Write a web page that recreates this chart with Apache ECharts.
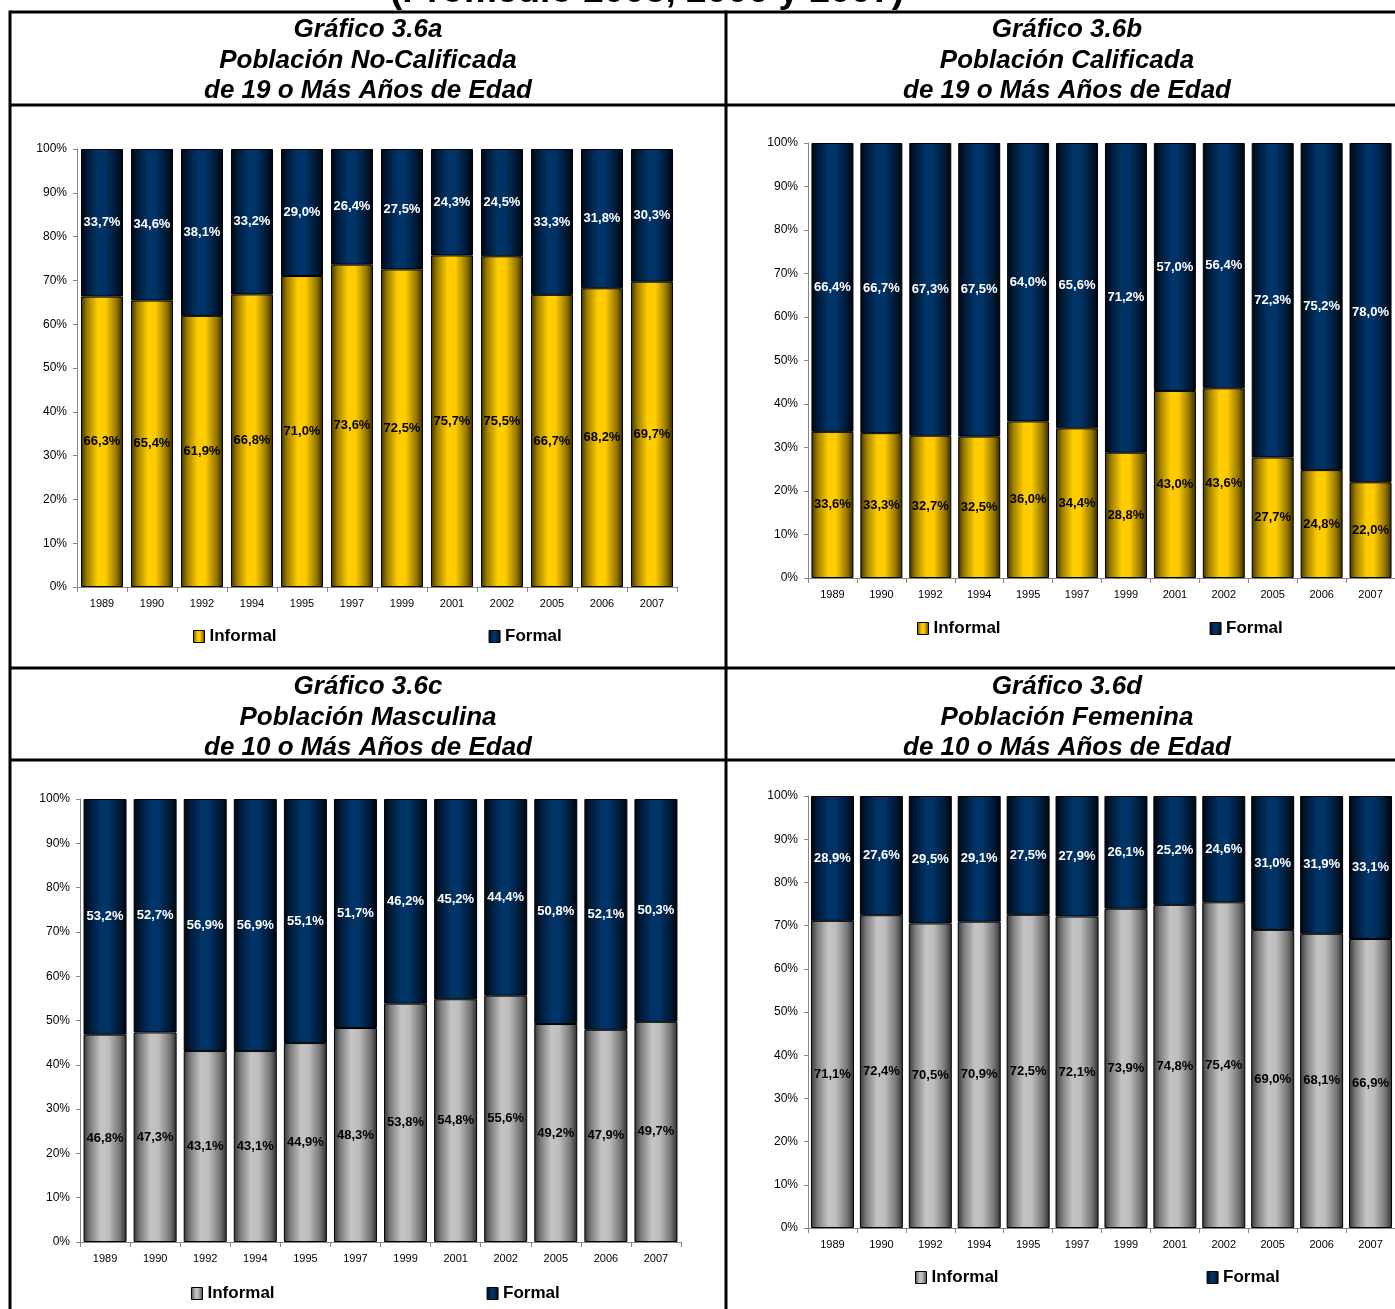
<!DOCTYPE html>
<html>
<head>
<meta charset="utf-8">
<script src="https://cdn.jsdelivr.net/npm/echarts@6/dist/echarts.min.js"></script>
<style>
html,body{margin:0;padding:0;background:#fff;}
#chart{width:1395px;height:1309px;}
</style>
</head>
<body>
<div id="chart"></div>
<script>
var years = ['1989','1990','1992','1994','1995','1997','1999','2001','2002','2005','2006','2007'];
var yTicks = [0,10,20,30,40,50,60,70,80,90,100];

var informalA = [66.3,65.4,61.9,66.8,71.0,73.6,72.5,75.7,75.5,66.7,68.2,69.7];
var formalA   = [33.7,34.6,38.1,33.2,29.0,26.4,27.5,24.3,24.5,33.3,31.8,30.3];
var informalB = [33.6,33.3,32.7,32.5,36.0,34.4,28.8,43.0,43.6,27.7,24.8,22.0];
var formalB   = [66.4,66.7,67.3,67.5,64.0,65.6,71.2,57.0,56.4,72.3,75.2,78.0];
var informalC = [46.8,47.3,43.1,43.1,44.9,48.3,53.8,54.8,55.6,49.2,47.9,49.7];
var formalC   = [53.2,52.7,56.9,56.9,55.1,51.7,46.2,45.2,44.4,50.8,52.1,50.3];
var informalD = [71.1,72.4,70.5,70.9,72.5,72.1,73.9,74.8,75.4,69.0,68.1,66.9];
var formalD   = [28.9,27.6,29.5,29.1,27.5,27.9,26.1,25.2,24.6,31.0,31.9,33.1];

var pageTitle = '(Promedio 2005, 2006 y 2007)';
var titles = [
  'Gráfico 3.6a\nPoblación No-Calificada\nde 19 o Más Años de Edad',
  'Gráfico 3.6b\nPoblación Calificada\nde 19 o Más Años de Edad',
  'Gráfico 3.6c\nPoblación Masculina\nde 10 o Más Años de Edad',
  'Gráfico 3.6d\nPoblación Femenina\nde 10 o Más Años de Edad'
];

var FONT = '"Liberation Sans", Arial, Helvetica, sans-serif';

function grad(edgeL, mid1, mid2, edgeR, c1, c2) {
  return {type:'linear', x:0, y:0, x2:1, y2:0, colorStops:[
    {offset:0, color:edgeL},
    {offset:0.15, color:c1},
    {offset:0.4, color:mid1},
    {offset:0.58, color:mid2},
    {offset:0.85, color:c2},
    {offset:1, color:edgeR}
  ]};
}
var yellow = grad('#3f3000', '#ffcc00', '#ffcc00', '#332700', '#a08000', '#927400');
var navy   = grad('#000510', '#003366', '#003366', '#00040c', '#001a38', '#001833');
var grey   = grad('#363636', '#c4c4c4', '#bdbdbd', '#2e2e2e', '#7c7c7c', '#747474');

var panels = [
  {inf: informalA, frm: formalA, infColor: yellow, grid:{left:77, top:149, width:600, height:438}, barW:42, legend:{left:193, top:628, gap:212}},
  {inf: informalB, frm: formalB, infColor: yellow, grid:{left:808, top:143, width:592, height:435}, barW:42, legend:{left:917, top:620, gap:209}},
  {inf: informalC, frm: formalC, infColor: grey,   grid:{left:80, top:799, width:601, height:443}, barW:43, legend:{left:191, top:1285, gap:212}},
  {inf: informalD, frm: formalD, infColor: grey,   grid:{left:808, top:796, width:589, height:432}, barW:43, legend:{left:915, top:1269, gap:208}}
];

function fmt(p) { return p.value.toFixed(1).replace('.', ',') + '%'; }

var grids = [], xAxes = [], yAxes = [], series = [], legends = [], titleComps = [];
panels.forEach(function(p, i) {
  grids.push(p.grid);
  xAxes.push({
    type:'category', gridIndex:i, data: years,
    axisLine:{lineStyle:{color:'#868686', width:1}},
    axisTick:{show:true, length:5, lineStyle:{color:'#868686'}},
    axisLabel:{color:'#000', fontSize:11, fontFamily:FONT, margin:11}
  });
  yAxes.push({
    type:'value', gridIndex:i, min:0, max:100, interval:10,
    axisLine:{show:true, lineStyle:{color:'#868686', width:1}},
    axisTick:{show:true, length:4, lineStyle:{color:'#868686'}},
    splitLine:{show:false},
    axisLabel:{color:'#000', fontSize:12, fontFamily:FONT, margin:10, formatter:'{value}%'}
  });
  series.push({
    name:'Informal', type:'bar', stack:'s'+i, xAxisIndex:i, yAxisIndex:i, data:p.inf, barWidth:p.barW,
    itemStyle:{color:p.infColor, borderColor:'#000', borderWidth:1},
    label:{show:true, position:'inside', formatter:fmt, color:'#000', fontWeight:'bold', fontSize:13, fontFamily:FONT},
    emphasis:{disabled:true}, animation:false
  });
  series.push({
    name:'Formal', type:'bar', stack:'s'+i, xAxisIndex:i, yAxisIndex:i, data:p.frm, barWidth:p.barW,
    itemStyle:{color:navy, borderColor:'#000', borderWidth:1},
    label:{show:true, position:'inside', formatter:fmt, color:'#fff', fontWeight:'bold', fontSize:13, fontFamily:FONT},
    emphasis:{disabled:true}, animation:false
  });
  legends.push({
    left:p.legend.left, top:p.legend.top, padding:0, itemGap:p.legend.gap,
    itemWidth:11, itemHeight:12, icon:'rect', selectedMode:false,
    textStyle:{color:'#000', fontWeight:'bold', fontSize:17, fontFamily:FONT},
    data:[
      {name:'Informal', itemStyle:{color:p.infColor, borderColor:'#000', borderWidth:1}},
      {name:'Formal', itemStyle:{color:navy, borderColor:'#000', borderWidth:1}}
    ]
  });
});

var titlePos = [[368, 15], [1067, 15], [368, 672], [1067, 672]];
titles.forEach(function(t, i) {
  titleComps.push({
    text:t, left:titlePos[i][0], top:titlePos[i][1], textAlign:'center', padding:0,
    textStyle:{color:'#000', fontSize:26, fontWeight:'bold', fontStyle:'italic', fontFamily:FONT, lineHeight:30.5}
  });
});

var lineStyle = {stroke:'#000', lineWidth:3};
var graphics = [
  {type:'text', x:647, y:10, z:0, style:{text:pageTitle, fill:'#000', font:'bold 37px ' + FONT, align:'center', verticalAlign:'bottom'}},
  {type:'rect', shape:{x:0, y:10, width:1395, height:3}, style:{fill:'#fff'}, z:1},
  {type:'line', shape:{x1:10, y1:12, x2:1395, y2:12}, style:lineStyle, z:2},
  {type:'line', shape:{x1:10, y1:105, x2:1395, y2:105}, style:lineStyle},
  {type:'line', shape:{x1:10, y1:668, x2:1395, y2:668}, style:lineStyle},
  {type:'line', shape:{x1:10, y1:760, x2:1395, y2:760}, style:lineStyle},
  {type:'line', shape:{x1:10, y1:10.5, x2:10, y2:1309}, style:lineStyle, z:2},
  {type:'line', shape:{x1:726, y1:10.5, x2:726, y2:1309}, style:lineStyle, z:2}
];

var chart = echarts.init(document.getElementById('chart'));
chart.setOption({
  backgroundColor:'#fff',
  animation:false,
  title: titleComps,
  grid: grids,
  xAxis: xAxes,
  yAxis: yAxes,
  legend: legends,
  series: series,
  graphic: graphics
});
</script>
</body>
</html>
